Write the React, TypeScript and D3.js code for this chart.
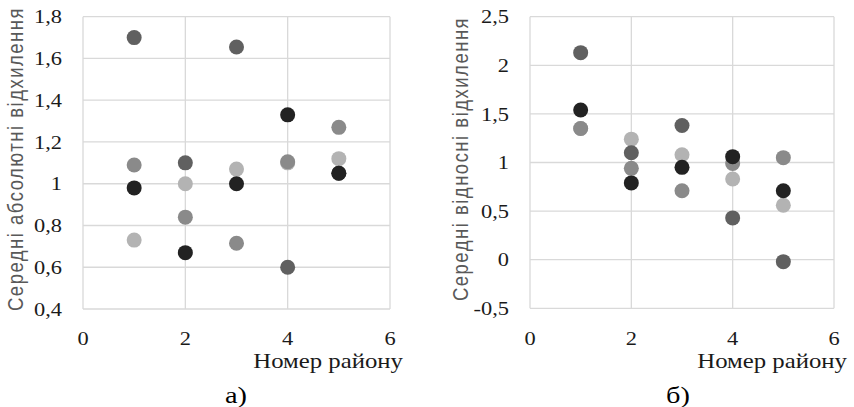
import React from "react";
import * as d3 from "d3";

// district numbers
const districts = [1, 2, 3, 4, 5];

// а) mean absolute deviations
const absBlack = [0.98, 0.67, 1.0, 1.33, 1.05];
const absDark = [1.7, 1.1, 1.655, 0.6, 1.05];
const absMid = [1.09, 0.84, 0.715, 1.105, 1.27];
const absLight = [0.73, 1.0, 1.07, 1.1, 1.12];

// б) mean relative deviations
const relBlack = [1.54, 0.79, 0.95, 1.06, 0.71];
const relDark = [2.13, 1.1, 1.38, 0.43, -0.02];
const relMid = [1.35, 0.94, 0.71, 0.99, 1.05];
const relLight = [1.35, 1.24, 1.08, 0.83, 0.56];

const xTicks = [0, 2, 4, 6];
const absTicks = [0.4, 0.6, 0.8, 1, 1.2, 1.4, 1.6, 1.8];
const relTicks = [-0.5, 0, 0.5, 1, 1.5, 2, 2.5];

const colors: Record<string, string> = { light: "#b3b3b3", mid: "#8a8a8a", dark: "#606060", black: "#222222" };

// the source picture is a bit wider than tall, so text is stretched sideways
const SX = 1.18;
const serif = (size: number) => ({ fontFamily: "Liberation Serif", fontSize: size + "px" });
const fmt = (v: number) => String(+v.toFixed(2)).replace(".", ",");

type PanelProps = {
  left: number; right: number; top: number; bottom: number;
  domain: number[]; ticks: number[];
  series: [string, number[]][];
  title: string; titleX: number; caption: string; captionX: number;
};

const Panel = (p: PanelProps) => {
  const x = d3.scaleLinear().domain([0, 6]).range([p.left, p.right]);
  const y = d3.scaleLinear().domain(p.domain).range([p.bottom, p.top]);
  return (
    <g>
      {p.ticks.map((t) => (
        <line key={"h" + t} x1={p.left} x2={p.right} y1={y(t)} y2={y(t)} stroke="#d9d9d9" strokeWidth={1.3} />
      ))}
      {xTicks.map((t) => (
        <line key={"v" + t} x1={x(t)} x2={x(t)} y1={p.top} y2={p.bottom} stroke="#d9d9d9" strokeWidth={1.3} />
      ))}
      {p.ticks.map((t) => (
        <text key={"yl" + t} transform={`translate(${p.left - 21},${y(t)}) scale(${SX},1)`}
          dy="0.35em" textAnchor="end" fill="#1a1a1a" style={serif(19)}>
          {fmt(t)}
        </text>
      ))}
      {xTicks.map((t) => (
        <text key={"xl" + t} transform={`translate(${x(t)},345) scale(${SX},1)`}
          textAnchor="middle" fill="#1a1a1a" style={serif(19)}>
          {t}
        </text>
      ))}
      {p.series.map(([key, vals]) =>
        vals.map((v, i) => (
          <circle key={key + i} cx={x(districts[i])} cy={y(v)} r={7.5} fill={colors[key]} />
        ))
      )}
      <text transform={`translate(${p.right + 13},368) scale(${SX},1)`} textAnchor="end" fill="#1a1a1a" style={serif(21)}>
        Номер району
      </text>
      <text
        transform={`translate(${p.titleX},159) scale(${SX},1) rotate(-90)`}
        textAnchor="middle"
        fill="#595959"
        style={{ fontFamily: "Liberation Sans", fontSize: "18.5px", letterSpacing: "1.5px" }}
      >
        {p.title}
      </text>
      <text transform={`translate(${p.captionX},403) scale(${SX},1)`} textAnchor="middle" fill="#000" style={serif(24)}>
        {p.caption}
      </text>
    </g>
  );
};

const App = () => (
  <svg width={854} height={407} style={{ position: "absolute", left: 0, top: 0, background: "#fff" }}>
    <Panel
      left={83} right={390} top={16.7} bottom={309}
      domain={[0.4, 1.8]} ticks={absTicks}
      series={[["light", absLight], ["mid", absMid], ["dark", absDark], ["black", absBlack]]}
      title="Середні абсолютні відхилення" titleX={23} caption="а)" captionX={236}
    />
    <Panel
      left={530} right={834} top={16.7} bottom={308.3}
      domain={[-0.5, 2.5]} ticks={relTicks}
      series={[["light", relLight], ["mid", relMid], ["dark", relDark], ["black", relBlack]]}
      title="Середні відносні відхилення" titleX={468} caption="б)" captionX={678}
    />
  </svg>
);

export default App;
